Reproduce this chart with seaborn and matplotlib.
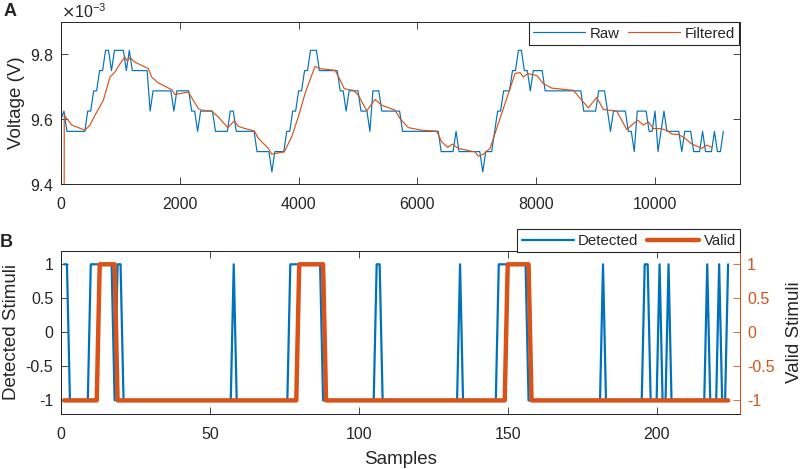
import numpy as np
import pandas as pd
import seaborn as sns
import matplotlib.pyplot as plt
from matplotlib.ticker import ScalarFormatter
from matplotlib.lines import Line2D

# Panel A: raw voltage (ADC steps, one point every 50 samples), in mV
raw_step = 50
raw_run_mv = [9.6, 9.625, 9.5625, 9.625, 9.6875, 9.75, 9.8125, 9.75, 9.8125, 9.75,
              9.8125, 9.75, 9.625, 9.6875, 9.625, 9.6875, 9.625, 9.5625, 9.625, 9.5625,
              9.625, 9.5625, 9.5, 9.4375, 9.5, 9.5625, 9.625, 9.6875, 9.75, 9.8125,
              9.75, 9.6875, 9.625, 9.6875, 9.625, 9.5625, 9.6875, 9.625, 9.5625, 9.5,
              9.5625, 9.5, 9.4375, 9.5, 9.5625, 9.625, 9.6875, 9.75, 9.8125, 9.75,
              9.6875, 9.75, 9.6875, 9.625, 9.6875, 9.625, 9.5625, 9.625, 9.5625, 9.5,
              9.625, 9.5625, 9.625, 9.5, 9.5625, 9.625, 9.5625, 9.5, 9.5625, 9.5,
              9.5625, 9.5, 9.5625, 9.5, 9.5625]
raw_run_len = [1, 1, 7, 2, 2, 2, 2, 1, 4, 1,
               1, 6, 1, 7, 1, 5, 2, 1, 5, 5,
               2, 7, 5, 1, 4, 2, 2, 2, 2, 3,
               7, 2, 1, 4, 3, 1, 3, 7, 13, 5,
               1, 8, 1, 3, 1, 2, 3, 2, 2, 2,
               1, 4, 13, 5, 3, 1, 1, 5, 2, 1,
               4, 2, 1, 1, 1, 1, 5, 1, 3, 3,
               1, 3, 1, 2, 1]

# Panel A: filtered voltage, mV
filt_x = [0, 55, 180, 404, 488, 572, 712, 825, 909, 993, 1077, 1116, 1162, 1246, 1359,
          1470, 1527, 1638, 1864, 1919, 2143, 2311, 2369, 2537, 2648, 2806, 2918, 2985,
          3098, 3254, 3322, 3490, 3547, 3658, 3759, 3884, 3995, 4108, 4209, 4276, 4360,
          4613, 4697, 4769, 4921, 5005, 5146, 5286, 5399, 5623, 5707, 5791, 5847, 6072,
          6325, 6409, 6510, 6588, 6689, 6970, 7025, 7109, 7222, 7306, 7419, 7530, 7643,
          7727, 7783, 7857, 7924, 8008, 8119, 8261, 8625, 8877, 9018, 9130, 9355, 9439,
          9524, 9608, 9709, 9803, 9887, 9971, 10084, 10197, 10281, 10392, 10505, 10606,
          10702, 10786, 10870, 10955]
filt_mv = [0.0, 9.612, 9.582, 9.566, 9.582, 9.612, 9.658, 9.730, 9.746, 9.771, 9.792,
           9.779, 9.790, 9.776, 9.766, 9.756, 9.730, 9.712, 9.691, 9.676, 9.684, 9.633,
           9.628, 9.625, 9.607, 9.574, 9.595, 9.578, 9.571, 9.564, 9.541, 9.510, 9.492,
           9.496, 9.499, 9.546, 9.607, 9.679, 9.730, 9.763, 9.756, 9.751, 9.722, 9.694,
           9.689, 9.674, 9.626, 9.661, 9.643, 9.628, 9.602, 9.585, 9.574, 9.566, 9.563,
           9.530, 9.513, 9.523, 9.510, 9.499, 9.486, 9.492, 9.510, 9.556, 9.618, 9.679,
           9.741, 9.744, 9.730, 9.741, 9.738, 9.735, 9.710, 9.696, 9.689, 9.635, 9.667,
           9.630, 9.625, 9.597, 9.568, 9.582, 9.597, 9.582, 9.592, 9.571, 9.571, 9.566,
           9.554, 9.553, 9.541, 9.525, 9.517, 9.510, 9.520, 9.513]

# Panel B: samples where the stimulus is detected / valid (+1), else -1
n_samples = 224
detected_on = ([1, 2] + list(range(10, 18)) + [19, 20, 58] + list(range(77, 88)) +
               [106, 107, 134] + list(range(147, 157)) + [182, 196, 197, 201, 204, 217, 221, 224])
valid_on = list(range(13, 19)) + list(range(80, 89)) + list(range(150, 158))

BLUE = "#0072BD"
ORANGE = "#D95319"
DARK = "#262626"

sns.set_style("ticks")
plt.rcParams["font.family"] = ["Liberation Sans", "DejaVu Sans"]
plt.rcParams["axes.unicode_minus"] = False
plt.rcParams["axes.edgecolor"] = DARK
plt.rcParams["xtick.color"] = DARK
plt.rcParams["ytick.color"] = DARK
plt.rcParams["axes.linewidth"] = 0.7

raw_mv = np.repeat(raw_run_mv, raw_run_len)
df_raw = pd.DataFrame({"x": np.arange(len(raw_mv)) * raw_step, "v": raw_mv * 1e-3})
df_filt = pd.DataFrame({"x": filt_x, "v": np.array(filt_mv) * 1e-3})

s = np.arange(1, n_samples + 1)
df_stim = pd.DataFrame({
    "sample": s,
    "detected": np.where(np.isin(s, detected_on), 1, -1),
    "valid": np.where(np.isin(s, valid_on), 1, -1),
})

fig = plt.figure(figsize=(8.03, 4.69), dpi=100)
ax_a = fig.add_axes([61 / 803, 1 - 184 / 469, 679 / 803, 162 / 469])
ax_b = fig.add_axes([61 / 803, 1 - 414 / 469, 679 / 803, 163.3 / 469])

# ---- A ----
sns.lineplot(data=df_raw, x="x", y="v", ax=ax_a, color=BLUE, lw=0.85, legend=False)
sns.lineplot(data=df_filt, x="x", y="v", ax=ax_a, color=ORANGE, lw=0.85, legend=False)
ax_a.set_xlim(0, 11430)
ax_a.set_ylim(9.4e-3, 9.9e-3)
ax_a.set_xticks([0, 2000, 4000, 6000, 8000, 10000])
ax_a.set_yticks([9.4e-3, 9.6e-3, 9.8e-3])
fmt = ScalarFormatter(useMathText=True)
fmt.set_powerlimits((-2, 2))
fmt.set_useOffset(False)
ax_a.yaxis.set_major_formatter(fmt)
ax_a.yaxis.get_offset_text().set_fontsize(11.5)
ax_a.yaxis.get_offset_text().set_color(DARK)
ax_a.set_xlabel("")
ax_a.set_ylabel("Voltage (V)", fontsize=13.5, color=DARK, labelpad=3)
ax_a.tick_params(direction="in", top=True, right=True, length=5, width=0.6, labelsize=11.5)
ax_a.tick_params(axis="x", pad=9.5)
ax_a.tick_params(axis="y", pad=5.5)

hand_a = [Line2D([], [], color=BLUE, lw=0.85), Line2D([], [], color=ORANGE, lw=0.85)]
leg_a = fig.legend(hand_a, ["Raw", "Filtered"], loc="upper right",
                   bbox_to_anchor=(739.5 / 803, 1 - 22 / 469), ncol=2, fontsize=10.8,
                   fancybox=False, edgecolor=DARK, framealpha=1, borderaxespad=0,
                   handlelength=3.45, handletextpad=0.3, columnspacing=0.6, borderpad=0.3)
leg_a.get_frame().set_linewidth(0.8)

# ---- B ----
sns.lineplot(data=df_stim, x="sample", y="detected", ax=ax_b, color=BLUE, lw=1.6, legend=False)
ax_v = ax_b.twinx()
sns.lineplot(data=df_stim, x="sample", y="valid", ax=ax_v, color=ORANGE, lw=3.2, legend=False)
ax_b.set_xlim(0, 228)
for ax in (ax_b, ax_v):
    ax.set_ylim(-1.2, 1.2)
    ax.set_yticks([-1, -0.5, 0, 0.5, 1])
    ax.set_yticklabels(["-1", "-0.5", "0", "0.5", "1"])
ax_b.set_xticks([0, 50, 100, 150, 200])
ax_b.set_xlabel("Samples", fontsize=13.5, color=DARK, labelpad=6)
ax_b.set_ylabel("Detected Stimuli", fontsize=13.5, color=DARK, labelpad=4)
ax_v.set_ylabel("Valid Stimuli", fontsize=13.5, color=DARK, labelpad=8)
ax_b.tick_params(direction="in", top=True, right=False, length=5, width=0.6, labelsize=11.5)
ax_b.tick_params(axis="x", pad=9.5)
ax_b.tick_params(axis="y", pad=5.5)
ax_v.tick_params(axis="y", direction="in", length=5, width=0.6, labelsize=11.5,
                 colors=ORANGE, pad=5)
ax_v.spines["right"].set_color(ORANGE)

hand_b = [Line2D([], [], color=BLUE, lw=1.6), Line2D([], [], color=ORANGE, lw=3.2)]
leg_b = fig.legend(hand_b, ["Detected", "Valid"], loc="upper right",
                   bbox_to_anchor=(740.5 / 803, 1 - 229.3 / 469), ncol=2, fontsize=10.8,
                   fancybox=False, edgecolor=DARK, framealpha=1, borderaxespad=0,
                   handlelength=3.45, handletextpad=0.3, columnspacing=0.6, borderpad=0.3)
leg_b.get_frame().set_linewidth(0.8)

# Panel letters
fig.text(0.004, 1 - 12 / 469, "A", fontsize=13, fontweight="bold", va="center")
fig.text(0.0, 1 - 242 / 469, "B", fontsize=13, fontweight="bold", va="center")

fig.savefig("out.png", dpi=100)
